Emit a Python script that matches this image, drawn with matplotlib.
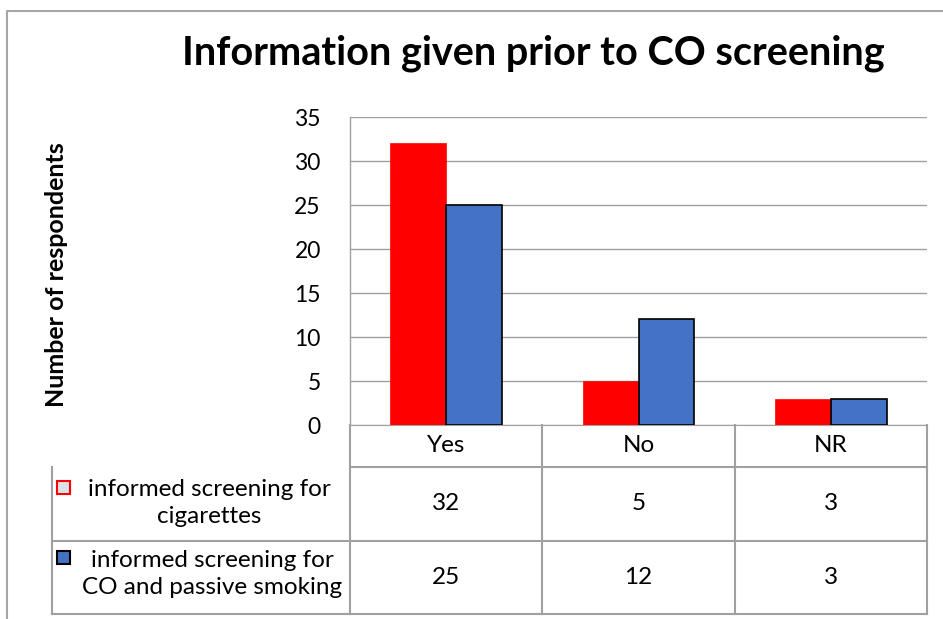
import numpy as np
import matplotlib
matplotlib.use("Agg")
import matplotlib.pyplot as plt
from matplotlib.patches import Rectangle

plt.rcParams['font.family'] = ['Lato', 'DejaVu Sans']

categories = ['Yes', 'No', 'NR']
series_names = ['informed screening for\ncigarettes',
                'informed screening for\nCO and passive smoking']
cigarettes = [32, 5, 3]
co_passive = [25, 12, 3]
yticks = [0, 5, 10, 15, 20, 25, 30, 35]

W, H = 943, 619
grid_col = '#a0a0a0'

def fx(px):
    return px / W

def fy(py):
    return 1 - py / H

fig = plt.figure(figsize=(W / 100, H / 100), dpi=100)

# outer chart frame
fig.add_artist(plt.Line2D([fx(7), fx(7), fx(943)], [fy(619), fy(11), fy(11)],
                          color='#a6a6a6', lw=1.5))

# main plot area
x_left, x_right, y_top, y_bot = 350, 927, 117, 425
ax = fig.add_axes([fx(x_left), fy(y_bot), fx(x_right - x_left), (y_bot - y_top) / H])
x = np.arange(len(categories))
bw = 0.29
ax.bar(x - bw / 2, cigarettes, bw, color='#ff0000', edgecolor='#ff0000', lw=0.5, zorder=3)
ax.bar(x + bw / 2, co_passive, bw, color='#4472c4', edgecolor='black', lw=1.2, zorder=3)
ax.set_xlim(-0.5, len(categories) - 0.5)
ax.set_ylim(0, 35)
ax.set_yticks(yticks)
ax.set_yticklabels([str(t) for t in yticks], fontsize=16.5)
ax.tick_params(axis='y', length=0, pad=21)
ax.set_xticks([])
ax.grid(axis='y', color=grid_col, lw=1, zorder=0)
for s in ['top', 'right']:
    ax.spines[s].set_visible(False)
ax.spines['left'].set_color(grid_col)
ax.spines['bottom'].set_color(grid_col)
ax.spines['left'].set_linewidth(1)

fig.text(fx(533), fy(53), 'Information given prior to CO screening',
         ha='center', va='center', fontsize=28.5, fontweight='bold')
fig.text(fx(57), fy(275), 'Number of respondents', rotation=90,
         ha='center', va='center', fontsize=18, fontweight='bold')

# data table
t_left, t_bot = 52, 614
tax = fig.add_axes([fx(t_left), fy(t_bot), fx(x_right - t_left), (t_bot - y_bot) / H])
unit = (x_right - x_left) / len(categories)
left_edge = -0.5 - (x_left - t_left) / unit
tax.set_xlim(left_edge, len(categories) - 0.5)
row_lines = [425, 467, 541, 614]
tax.set_ylim(614, 425)
tax.axis('off')
lc = dict(color=grid_col, lw=1.5, clip_on=False)
# header row (only category columns)
tax.plot([-0.5, len(categories) - 0.5], [467, 467], **lc)
for r in row_lines[2:]:
    tax.plot([left_edge, len(categories) - 0.5], [r, r], **lc)
tax.plot([left_edge, left_edge], [467, 614], **lc)
for i in range(len(categories) + 1):
    tax.plot([i - 0.5, i - 0.5], [425, 614], **lc)
for i, c in enumerate(categories):
    tax.text(i, (425 + 467) / 2, c, ha='center', va='center', fontsize=17.5)
values = [cigarettes, co_passive]
for r, vals in enumerate(values):
    yc = (row_lines[r + 1] + row_lines[r + 2]) / 2
    for i, v in enumerate(vals):
        tax.text(i, yc, str(v), ha='center', va='center', fontsize=17.5)

# legend keys + series names
keys = [dict(fc='#dde3ea', ec='#ff0000'), dict(fc='#4472c4', ec='black')]
label_pos = [(209, 503), (212, 574)]
key_pos = [(57, 487), (57, 557)]
for name, k, (tx, ty), (kx, ky) in zip(series_names, keys, label_pos, key_pos):
    fig.text(fx(tx), fy(ty), name, ha='center', va='center', fontsize=17.5,
             linespacing=1.4)
    fig.add_artist(Rectangle((fx(kx), fy(ky + 6.5)), fx(13), 13 / H, lw=1.5,
                             transform=fig.transFigure, **k))

fig.savefig('out.png', dpi=100)
